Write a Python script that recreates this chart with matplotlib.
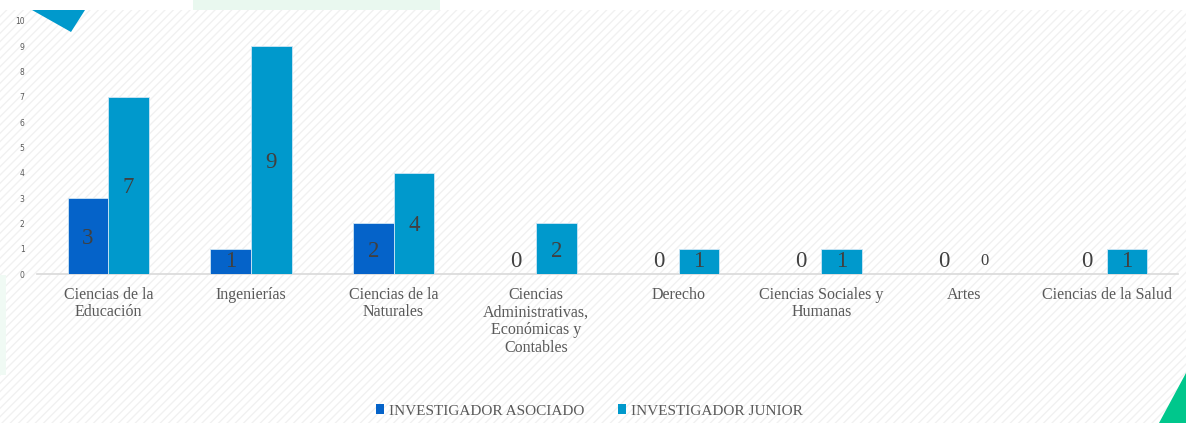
import matplotlib
matplotlib.use("Agg")
import matplotlib.pyplot as plt
from matplotlib.patches import Rectangle, Polygon
import numpy as np

categories = ["Ciencias de la\nEducación", "Ingenierías", "Ciencias de la\nNaturales",
              "Ciencias\nAdministrativas,\nEconómicas y\nContables", "Derecho",
              "Ciencias Sociales y\nHumanas", "Artes", "Ciencias de la Salud"]
asociado = [3, 1, 2, 0, 0, 0, 0, 0]
junior = [7, 9, 4, 2, 1, 1, 0, 1]
series_names = ["INVESTIGADOR ASOCIADO", "INVESTIGADOR JUNIOR"]
colors = ["#0563C9", "#0099CC"]
yticks = list(range(0, 11))

W, H = 1186, 423
fig = plt.figure(figsize=(W / 100, H / 100), dpi=100)
fig.patch.set_facecolor("white")

plt.rcParams["hatch.color"] = "#f1f1f1"
plt.rcParams["hatch.linewidth"] = 1.0
bg = Rectangle((0, 0), 1, 1 - 10 / H, transform=fig.transFigure, facecolor="white",
               edgecolor="#f1f1f1", hatch="////", linewidth=0, zorder=-10)
fig.patches.append(bg)
# decorations
fig.patches.append(Rectangle((193 / W, 1 - 10 / H), 247 / W, 10 / H, transform=fig.transFigure,
                             facecolor="#e9f8ef", edgecolor="none", zorder=-9))
fig.patches.append(Rectangle((0, 1 - 375 / H), 6 / W, 100 / H, transform=fig.transFigure,
                             facecolor="#f0faf4", edgecolor="none", zorder=-9))
fig.patches.append(Polygon([(32 / W, 1 - 10 / H), (85 / W, 1 - 10 / H), (71 / W, 1 - 32 / H)],
                           closed=True, transform=fig.transFigure, facecolor="#0099CC",
                           edgecolor="none", zorder=5))
fig.patches.append(Polygon([(1159 / W, 0), (1186 / W, 50 / H), (1186 / W, 0)],
                           closed=True, transform=fig.transFigure, facecolor="#00C78C",
                           edgecolor="none", zorder=5))

left, right = 37 / W, 1178 / W
bottom, top = 1 - 274 / H, 1 - 21 / H
ax = fig.add_axes([left, bottom, right - left, top - bottom])
ax.set_facecolor("none")

x = np.arange(len(categories))
bw = 0.285
serif = ["Liberation Serif", "DejaVu Serif"]
b1 = ax.bar(x - bw / 2, asociado, bw, color=colors[0], label=series_names[0], zorder=3,
            edgecolor="#cfe6f5", linewidth=0.6)
b2 = ax.bar(x + bw / 2, junior, bw, color=colors[1], label=series_names[1], zorder=3,
            edgecolor="#cfe6f5", linewidth=0.6)

for xi, v in zip(x - bw / 2, asociado):
    ax.text(xi, max(v / 2, 0.6), str(v), ha="center", va="center_baseline", fontsize=16.5,
            family=serif, color="#404040", zorder=4)
for xi, v in zip(x + bw / 2, junior):
    ax.text(xi, max(v / 2, 0.6), str(v), ha="center", va="center_baseline",
            fontsize=16.5 if v > 0 else 12, family=serif, color="#404040", zorder=4)

ax.set_xlim(-0.5, len(categories) - 0.5)
ax.set_ylim(0, 10)
ax.set_yticks(yticks)
ax.set_yticklabels([str(t) for t in yticks], fontsize=5.5, color="#595959")
ax.tick_params(axis="y", length=0, pad=9)
ax.set_xticks(x)
ax.set_xticklabels(categories, fontsize=11.5, family=serif, color="#595959", linespacing=1.15)
ax.tick_params(axis="x", length=0, pad=9)
for s in ["top", "right", "left"]:
    ax.spines[s].set_visible(False)
ax.spines["bottom"].set_color("#d9d9d9")
ax.spines["bottom"].set_linewidth(1.2)

leg = fig.legend(handles=[b1, b2], labels=series_names, loc="center", bbox_to_anchor=(589 / W, 1 - 411 / H),
                 ncol=2, frameon=False, handlelength=0.55, handleheight=0.55, handletextpad=0.3,
                 columnspacing=2.2, prop={"family": serif, "size": 11})
for t in leg.get_texts():
    t.set_color("#595959")
for h in leg.legend_handles:
    h.set_linewidth(0)

fig.savefig("out.png", dpi=100, facecolor="white")
